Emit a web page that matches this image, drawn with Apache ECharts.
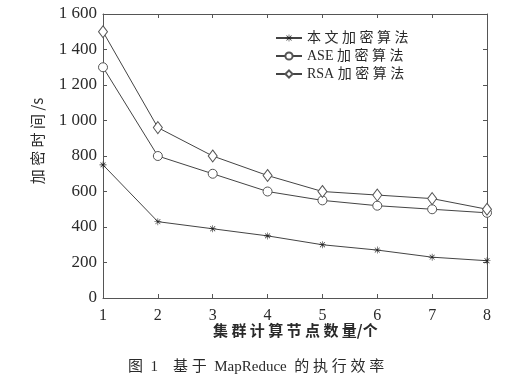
<!DOCTYPE html>
<html><head><meta charset="utf-8">
<script src="https://cdn.jsdelivr.net/npm/echarts@6/dist/echarts.min.js"></script>
<style>html,body{margin:0;padding:0;background:#fff}#c{width:520px;height:390px}</style>
</head><body><div id="c"></div>
<script>
const nodes = [1, 2, 3, 4, 5, 6, 7, 8];
const oursValues = [750, 430, 390, 350, 300, 270, 230, 210];
const aseValues = [1300, 800, 700, 600, 550, 520, 500, 480];
const rsaValues = [1500, 960, 800, 690, 600, 580, 560, 500];
const seriesNames = ['本 文 加 密 算 法', 'ASE 加 密 算 法', 'RSA 加 密 算 法'];
const yTicks = [0, 200, 400, 600, 800, 1000, 1200, 1400, 1600];
const xTitle = '集 群 计 算 节 点 数 量/个';
const yTitle = '加 密 时 间 /s';
const caption = '图  1    基 于  MapReduce  的 执 行 效 率';

const serif = '"Liberation Serif","Noto Sans CJK SC",serif';
const ink = '#2a2a2a';
const star = 'path://M-0.4,-5L0.4,-5L0.4,5L-0.4,5Z M-5,-0.4L5,-0.4L5,0.4L-5,0.4Z M-3.8,-3.2L-3.2,-3.8L3.8,3.2L3.2,3.8Z M3.2,-3.8L3.8,-3.2L-3.2,3.8L-3.8,3.2Z';

function pairs(vals){ return nodes.map((x,i)=>[x, vals[i]]); }
function fmt(v){ const s = String(v); return s.length>3 ? s.slice(0,s.length-3)+' '+s.slice(-3) : s; }

const axisCommon = {
  axisLine:{show:true, onZero:false, lineStyle:{color:'#555', width:1}},
  axisTick:{show:true, inside:true, length:4, lineStyle:{color:'#555'}},
  splitLine:{show:false}
};

const chart = echarts.init(document.getElementById('c'));
chart.setOption({
  animation:false,
  backgroundColor:'#fff',
  grid:{left:103, right:33, top:14, bottom:92},
  xAxis:[
    Object.assign({type:'value', min:1, max:8, interval:1, position:'bottom',
      axisLabel:{color:ink, fontFamily:serif, fontSize:16, margin:10}}, axisCommon),
    Object.assign({type:'value', min:1, max:8, interval:1, position:'top',
      axisLabel:{show:false}}, axisCommon)
  ],
  yAxis:[
    Object.assign({type:'value', min:0, max:1600, interval:200, position:'left',
      axisLabel:{color:ink, fontFamily:serif, fontSize:17, margin:6, formatter:fmt}}, axisCommon),
    Object.assign({type:'value', min:0, max:1600, interval:200, position:'right',
      axisLabel:{show:false}}, axisCommon)
  ],
  legend:{
    left:270, top:26, orient:'vertical', itemGap:4, itemWidth:26, itemHeight:9,
    textStyle:{color:ink, fontFamily:serif, fontSize:14},
    data:seriesNames
  },
  series:[
    {name:seriesNames[0], type:'line', data:pairs(oursValues), symbol:star, symbolSize:7,
      lineStyle:{color:'#444', width:1}, itemStyle:{color:'#222', borderWidth:0}},
    {name:seriesNames[1], type:'line', data:pairs(aseValues), symbol:'circle', symbolSize:9,
      lineStyle:{color:'#444', width:1}, itemStyle:{color:'#fff', borderColor:'#555', borderWidth:1}},
    {name:seriesNames[2], type:'line', data:pairs(rsaValues), symbol:'diamond', symbolSize:[9,12],
      lineStyle:{color:'#444', width:1}, itemStyle:{color:'#fff', borderColor:'#555', borderWidth:1}}
  ],
  graphic:[
    {type:'text', left:213, top:323, style:{text:xTitle, fill:ink, font:'bold 15px "Noto Sans CJK SC"'}},
    {type:'text', left:128, top:360, style:{text:caption, fill:ink, font:'15px "Liberation Serif","Noto Sans CJK SC"'}},
    {type:'text', x:37, y:141, rotation:Math.PI/2, style:{text:yTitle, fill:ink, font:'15px "Noto Sans CJK SC"', align:'center', verticalAlign:'middle'}}
  ]
});
</script></body></html>
